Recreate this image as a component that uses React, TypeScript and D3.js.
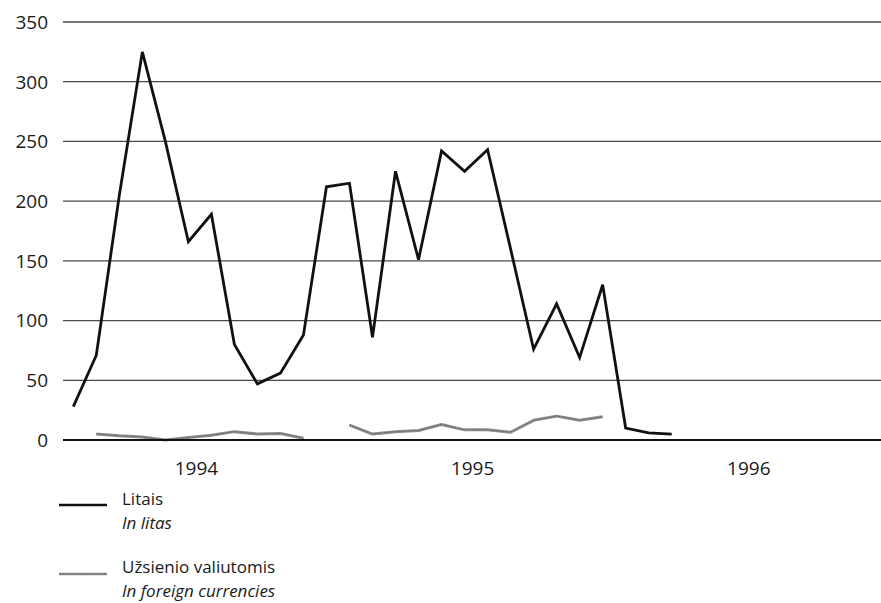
import * as d3 from "d3";
import React from "react";

// months from Jan 1994
const litas = [
  28, 71, 205, 325, 250, 166, 189, 80, 47, 56, 88, 212,
  215, 86, 225, 151, 242, 225, 243, 160, 76, 114, 69, 130,
  10, 6, 5,
];
const foreign: (number | null)[] = [
  null, 5, 3.5, 2.5, 0, 2, 4, 7, 5, 5.5, 1.5, null,
  12.5, 5, 7, 8, 13, 8.5, 8.5, 6.5, 16.5, 20, 16.5, 19.5,
];
const yTicks = [0, 50, 100, 150, 200, 250, 300, 350];
const years = ["1994", "1995", "1996"];

const W = 881;
const H = 603;
const font = "'Open Sans', 'DejaVu Sans', sans-serif";

const App = () => {
  const x = d3.scaleLinear().domain([0, 26]).range([73.3, 671.7]);
  const y = d3.scaleLinear().domain([0, 350]).range([440, 22]);
  const gridLeft = 63;

  const line = d3
    .line<number>()
    .x((d, i) => x(i))
    .y((d) => y(d));

  const grayLine = d3
    .line<number | null>()
    .defined((d) => d !== null)
    .x((d, i) => x(i))
    .y((d) => y(d as number));

  return (
    <div style={{ position: "fixed", left: 0, top: 0 }}>
      <svg width={W} height={H} style={{ display: "block", background: "#fff" }}>
        {/* y grid + labels */}
        {yTicks.map((t) => (
          <g key={t}>
            {t > 0 && (
              <line
                x1={gridLeft}
                x2={W}
                y1={y(t)}
                y2={y(t)}
                stroke="#4a4a4a"
                strokeWidth={1.3}
              />
            )}
            <text
              x={48}
              y={y(t)}
              dy="0.36em"
              textAnchor="end"
              fontFamily={font}
              fontSize={19}
              fill="#1a1a1a"
            >
              {t}
            </text>
          </g>
        ))}

        {/* foreign currencies */}
        <path
          d={grayLine(foreign) || ""}
          fill="none"
          stroke="#8e8e8e"
          strokeWidth={3}
          strokeLinejoin="round"
        />
        <path
          d={grayLine(foreign) || ""}
          fill="none"
          stroke="#5e5e5e"
          strokeWidth={1}
          strokeDasharray="1.5 1.5"
        />

        {/* base line */}
        <line x1={gridLeft} x2={W} y1={y(0)} y2={y(0)} stroke="#111" strokeWidth={2.2} />

        {/* litas */}
        <path
          d={line(litas) || ""}
          fill="none"
          stroke="#111"
          strokeWidth={2.8}
          strokeLinejoin="miter"
        />

        {/* year labels */}
        {years.map((yr, i) => (
          <text
            key={yr}
            x={x(i * 12 + 5.35)}
            y={475}
            textAnchor="middle"
            fontFamily={font}
            fontSize={19}
            fill="#1a1a1a"
          >
            {yr}
          </text>
        ))}

        {/* legend */}
        <line x1={59} x2={107} y1={505} y2={505} stroke="#111" strokeWidth={2.6} />
        <text x={122} y={505} fontFamily={font} fontSize={17} fill="#1a1a1a">
          Litais
        </text>
        <text x={122} y={529} fontFamily={font} fontSize={17} fontStyle="italic" fill="#1a1a1a">
          In litas
        </text>
        <line x1={59} x2={107} y1={574} y2={574} stroke="#8e8e8e" strokeWidth={2.4} />
        <line
          x1={59}
          x2={107}
          y1={574}
          y2={574}
          stroke="#5e5e5e"
          strokeWidth={1}
          strokeDasharray="1.5 1.5"
        />
        <text x={122} y={573} fontFamily={font} fontSize={17} fill="#1a1a1a">
          Užsienio valiutomis
        </text>
        <text x={122} y={597} fontFamily={font} fontSize={17} fontStyle="italic" fill="#1a1a1a">
          In foreign currencies
        </text>
      </svg>
    </div>
  );
};

export default App;
